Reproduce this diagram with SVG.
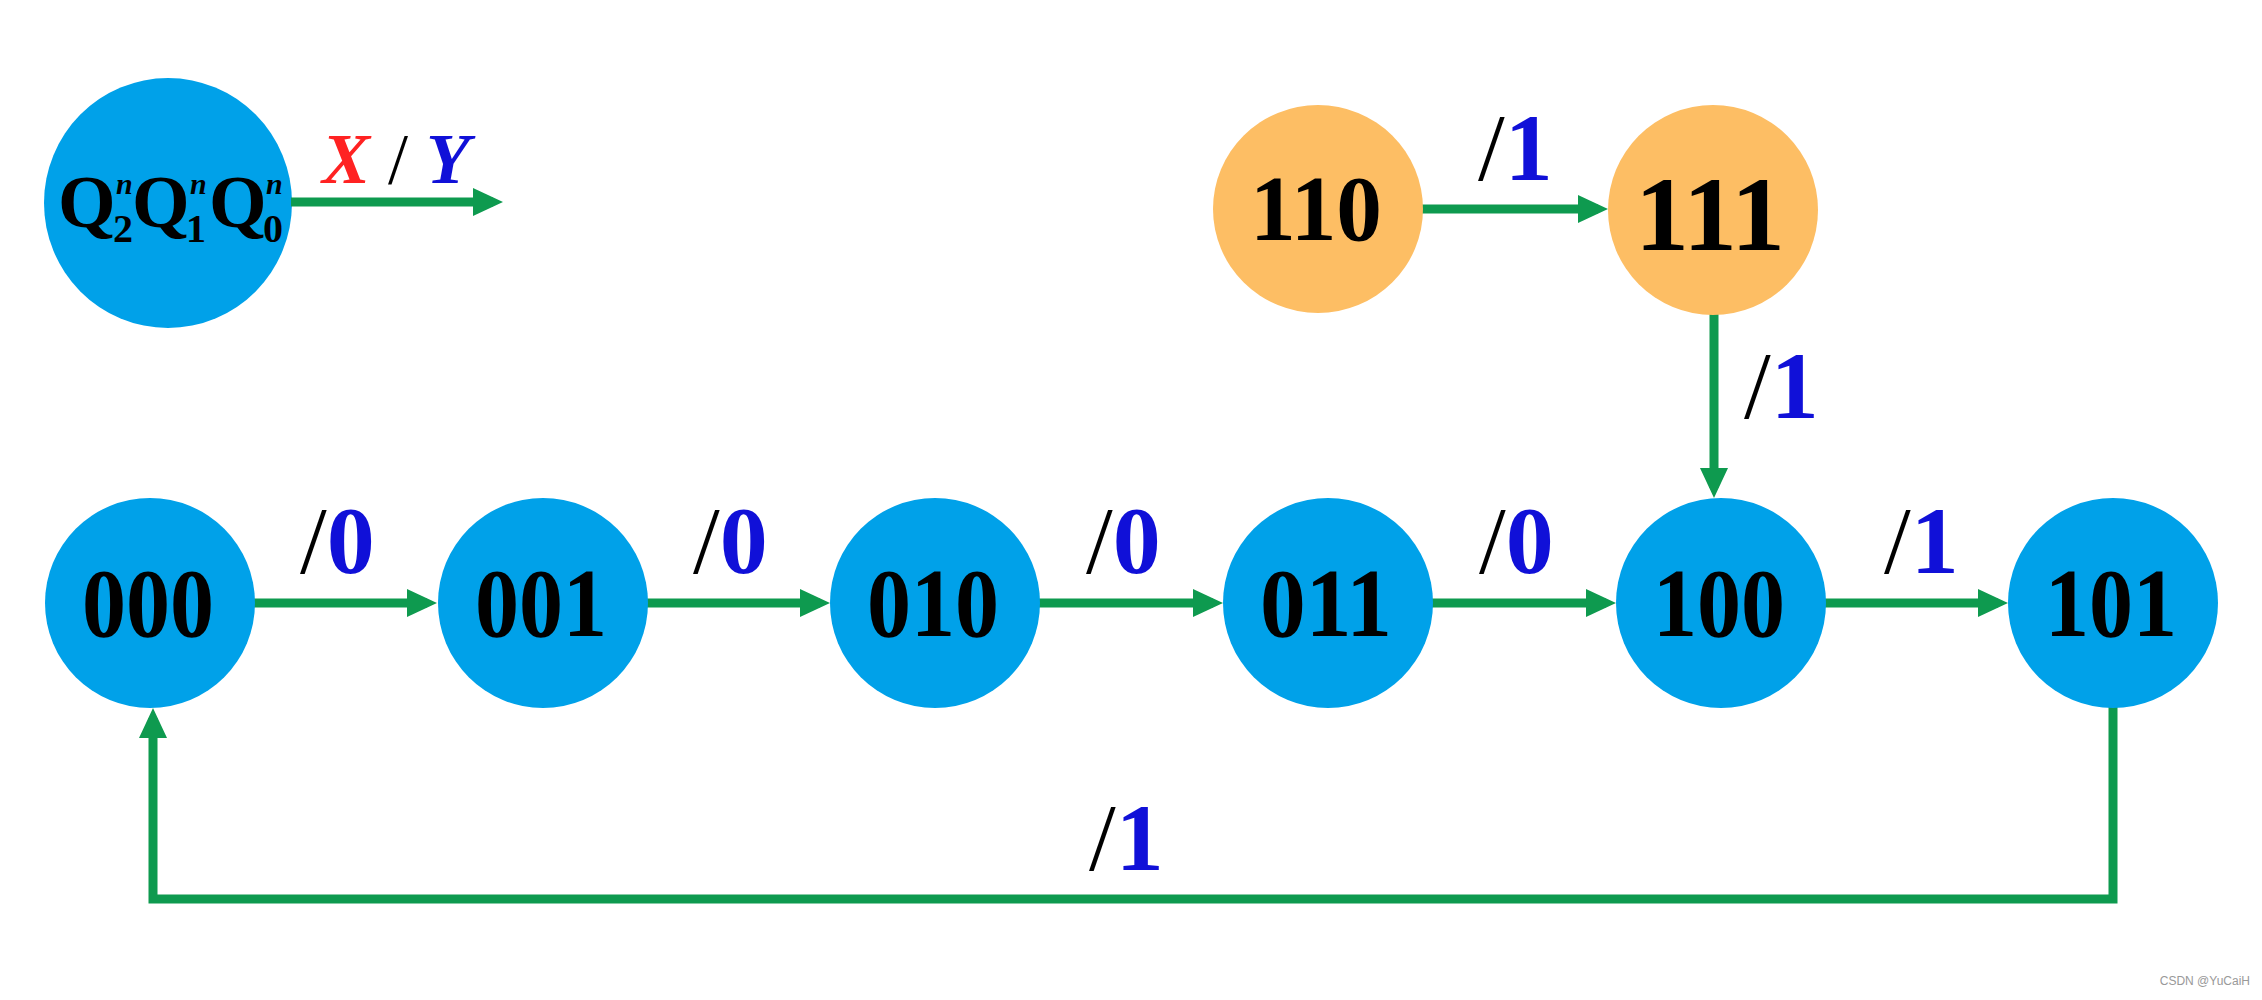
<svg xmlns="http://www.w3.org/2000/svg" width="2262" height="1000" viewBox="0 0 2262 1000">
<style>
.blue{fill:#00A1E9}
.orange{fill:#FDBE64}
.node{font-family:"Liberation Serif","Times New Roman",serif;font-weight:bold;fill:#000;text-anchor:middle}
.lbl{font-family:"Liberation Serif","Times New Roman",serif;font-size:96px}
.sl{fill:#000}
.dg{fill:#1010D8;font-weight:bold}
.wire{stroke:#0E9A4F;stroke-width:9;fill:none}
</style>
<defs>
<marker id="ah" markerUnits="userSpaceOnUse" markerWidth="31" markerHeight="28" refX="20" refY="14" orient="auto">
<path d="M0,0 L30,14 L0,28 z" fill="#0E9A4F"/>
</marker>
</defs>
<rect width="2262" height="1000" fill="#fff"/>
<g id="legend">
<ellipse class="blue" cx="168" cy="203" rx="124" ry="125"/>
<text font-family="'Liberation Serif','Times New Roman',serif" font-weight="bold" fill="#000"><tspan x="58" y="227" font-size="74">Q</tspan><tspan x="113" y="242" font-size="40">2</tspan><tspan x="116" y="194" font-size="30" font-style="italic">n</tspan><tspan x="132" y="227" font-size="74">Q</tspan><tspan x="186" y="242" font-size="40">1</tspan><tspan x="190" y="194" font-size="30" font-style="italic">n</tspan><tspan x="209" y="227" font-size="74">Q</tspan><tspan x="263" y="242" font-size="40">0</tspan><tspan x="266" y="194" font-size="30" font-style="italic">n</tspan></text>
<text x="322" y="183" font-family="'Liberation Serif','Times New Roman',serif" font-size="72" font-weight="bold" font-style="italic"><tspan fill="#FF2222">X</tspan><tspan fill="#000" font-weight="normal" font-style="normal"> / </tspan><tspan fill="#1010D8">Y</tspan></text>
</g>
<g id="connectors">
<line class="wire" x1="291" y1="202" x2="493" y2="202" marker-end="url(#ah)"/>
<line class="wire" x1="254" y1="603" x2="427" y2="603" marker-end="url(#ah)"/>
<line class="wire" x1="647" y1="603" x2="820" y2="603" marker-end="url(#ah)"/>
<line class="wire" x1="1039" y1="603" x2="1213" y2="603" marker-end="url(#ah)"/>
<line class="wire" x1="1432" y1="603" x2="1606" y2="603" marker-end="url(#ah)"/>
<line class="wire" x1="1825" y1="603" x2="1998" y2="603" marker-end="url(#ah)"/>
<line class="wire" x1="1422" y1="209" x2="1598" y2="209" marker-end="url(#ah)"/>
<line class="wire" x1="1714" y1="314" x2="1714" y2="488" marker-end="url(#ah)"/>
<path class="wire" d="M2113,707 V899 H153 V718" marker-end="url(#ah)"/>
<text class="lbl" x="300" y="573"><tspan class="sl">/</tspan><tspan class="dg">0</tspan></text>
<text class="lbl" x="693" y="573"><tspan class="sl">/</tspan><tspan class="dg">0</tspan></text>
<text class="lbl" x="1086" y="573"><tspan class="sl">/</tspan><tspan class="dg">0</tspan></text>
<text class="lbl" x="1479" y="573"><tspan class="sl">/</tspan><tspan class="dg">0</tspan></text>
<text class="lbl" x="1884" y="573"><tspan class="sl">/</tspan><tspan class="dg">1</tspan></text>
<text class="lbl" x="1478" y="180"><tspan class="sl">/</tspan><tspan class="dg">1</tspan></text>
<text class="lbl" x="1744" y="418"><tspan class="sl">/</tspan><tspan class="dg">1</tspan></text>
<text class="lbl" x="1089" y="870"><tspan class="sl">/</tspan><tspan class="dg">1</tspan></text>
</g>
<g id="n000"><ellipse class="blue" cx="150" cy="603" rx="105" ry="105"/><text class="node" x="148" y="636" font-size="98" textLength="132" lengthAdjust="spacingAndGlyphs">000</text></g>
<g id="n001"><ellipse class="blue" cx="543" cy="603" rx="105" ry="105"/><text class="node" x="541" y="636" font-size="98" textLength="132" lengthAdjust="spacingAndGlyphs">001</text></g>
<g id="n010"><ellipse class="blue" cx="935" cy="603" rx="105" ry="105"/><text class="node" x="933" y="636" font-size="98" textLength="132" lengthAdjust="spacingAndGlyphs">010</text></g>
<g id="n011"><ellipse class="blue" cx="1328" cy="603" rx="105" ry="105"/><text class="node" x="1326" y="636" font-size="98" textLength="132" lengthAdjust="spacingAndGlyphs">011</text></g>
<g id="n100"><ellipse class="blue" cx="1721" cy="603" rx="105" ry="105"/><text class="node" x="1719" y="636" font-size="98" textLength="132" lengthAdjust="spacingAndGlyphs">100</text></g>
<g id="n101"><ellipse class="blue" cx="2113" cy="603" rx="105" ry="105"/><text class="node" x="2111" y="636" font-size="98" textLength="132" lengthAdjust="spacingAndGlyphs">101</text></g>
<g id="n110"><ellipse class="orange" cx="1318" cy="209" rx="105" ry="104"/><text class="node" x="1316" y="240" font-size="93" textLength="132" lengthAdjust="spacingAndGlyphs">110</text></g>
<g id="n111"><ellipse class="orange" cx="1713" cy="210" rx="105" ry="105"/><text class="node" x="1710" y="250" font-size="106" textLength="150" lengthAdjust="spacingAndGlyphs">111</text></g>
<text x="2250" y="985" font-family="'Liberation Sans',Arial,sans-serif" font-size="12" fill="#999" text-anchor="end">CSDN @YuCaiH</text>
</svg>
